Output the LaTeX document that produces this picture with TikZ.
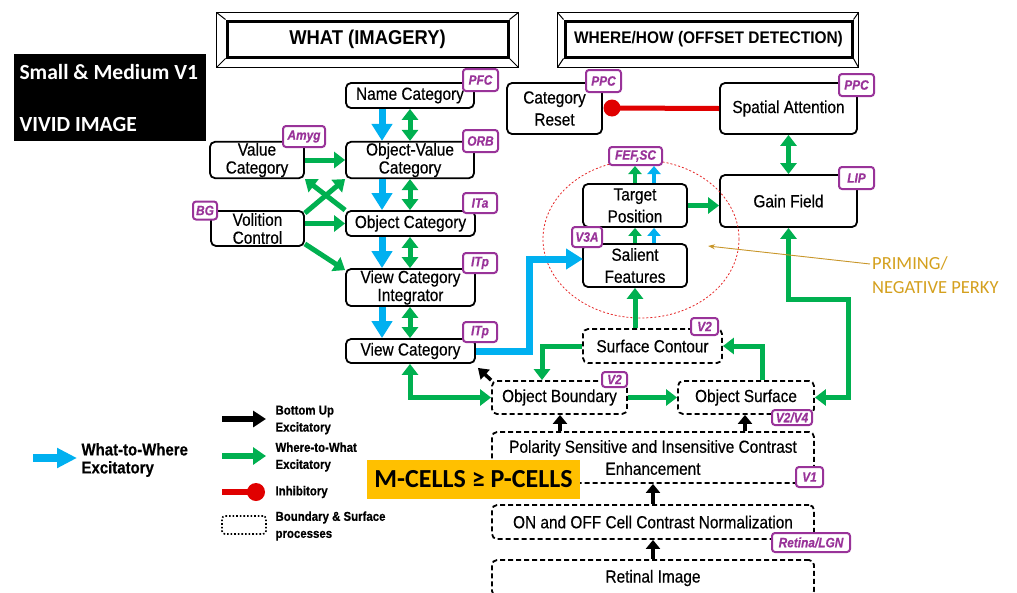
\documentclass[tikz,border=0pt]{standalone}
\usepackage{fontspec}
\setmainfont{Liberation Sans}
\newfontfamily\nf[FakeStretch=0.88, FakeBold=0.4]{Liberation Sans}
\newfontfamily\tf[FakeStretch=0.92]{Liberation Sans}
\newfontfamily\cf{Carlito}
\usetikzlibrary{arrows.meta,calc}
\definecolor{cgreen}{HTML}{00B050}
\definecolor{cblue}{HTML}{00B0F0}
\definecolor{cred}{HTML}{E00000}
\definecolor{cpurple}{HTML}{993399}
\definecolor{corange}{HTML}{FFC000}
\definecolor{cgold}{HTML}{D4A01E}
\definecolor{cgoldline}{HTML}{C8962A}
\begin{document}
\begin{tikzpicture}[x=1pt,y=-1pt,
  box/.style={draw, line width=1.8pt, rounded corners=5pt, fill=white, inner sep=1pt, align=center, font=\nf\fontsize{17.5}{18}\selectfont},
  boxw/.style={box, font=\nf\fontsize{17.5}{22}\selectfont},
  dbox/.style={box, dash pattern=on 5pt off 3pt},
  tag/.style={draw=cpurple, text=cpurple, line width=2pt, rounded corners=3pt, fill=white, inner sep=0pt, font=\nf\bfseries\itshape\fontsize{13.5}{14}\selectfont},
  gar/.style={draw=cgreen, line width=5pt, -{Triangle[length=11pt,width=16pt]}},
  gdar/.style={draw=cgreen, line width=5pt, {Triangle[length=11pt,width=16pt]}-{Triangle[length=11pt,width=16pt]}},
  gsm/.style={draw=cgreen, line width=4pt, -{Triangle[length=8pt,width=13pt]}},
  bsm/.style={draw=cblue, line width=4pt, -{Triangle[length=8pt,width=13pt]}},
  bar/.style={draw=cblue, line width=7pt, -{Triangle[length=17pt,width=20pt]}},
  kar/.style={draw=black, line width=4.5pt, -{Triangle[length=9pt,width=14pt]}},
  ksm/.style={draw=black, line width=3.5pt, -{Triangle[length=10pt,width=13pt]}},
  legtext/.style={anchor=west, align=left, font=\nf\bfseries\fontsize{13}{17}\selectfont},
  frame/.style={draw, line width=1.2pt},
]
\useasboundingbox (0,0) rectangle (1017,592);

% ---------- title frames ----------
\node[draw, line width=3pt, minimum width=281pt, minimum height=36pt, inner sep=0, font=\tf\bfseries\fontsize{20}{20}\selectfont] (what) at (367.5,39) {WHAT (IMAGERY)};
\draw[frame] ([xshift=-9pt,yshift=7pt]what.north west) rectangle ([xshift=9pt,yshift=-9pt]what.south east);
\draw[line width=1pt] ([xshift=-9pt,yshift=7pt]what.north west) -- (what.north west)
  ([xshift=9pt,yshift=7pt]what.north east) -- (what.north east)
  ([xshift=-9pt,yshift=-9pt]what.south west) -- (what.south west)
  ([xshift=9pt,yshift=-9pt]what.south east) -- (what.south east);
\node[draw, line width=3pt, minimum width=287pt, minimum height=36pt, inner sep=0, font=\tf\bfseries\fontsize{16.8}{17}\selectfont] (where) at (708.5,39) {WHERE/HOW (OFFSET DETECTION)};
\draw[frame] ([xshift=-6pt,yshift=7pt]where.north west) rectangle ([xshift=5pt,yshift=-9pt]where.south east);
\draw[line width=1pt] ([xshift=-6pt,yshift=7pt]where.north west) -- (where.north west)
  ([xshift=5pt,yshift=7pt]where.north east) -- (where.north east)
  ([xshift=-6pt,yshift=-9pt]where.south west) -- (where.south west)
  ([xshift=5pt,yshift=-9pt]where.south east) -- (where.south east);

% ---------- black label ----------
\node[fill=black, minimum width=192pt, minimum height=87pt, inner sep=0] (vbox) at (110,97.5) {};
\node[text=white, anchor=west, font=\cf\bfseries\fontsize{21.6}{22}\selectfont] (vt1) at (16,72) {Small \& Medium V1};
\node[text=white, anchor=west, font=\cf\bfseries\fontsize{21.6}{22}\selectfont] (vt2) at (16,124) {VIVID IMAGE};

% ---------- WHAT boxes ----------
\node[box, minimum width=128pt, minimum height=25pt] (namecat) at (410,95.5) {Name Category};
\node[box, minimum width=128pt, minimum height=36pt] (ovcat) at (410,160) {Object-Value\\Category};
\node[box, minimum width=94pt, minimum height=36pt] (valcat) at (257,160) {Value\\Category};
\node[box, minimum width=93pt, minimum height=35pt] (volcon) at (257.5,228.5) {Volition\\Control};
\node[box, minimum width=129pt, minimum height=25pt] (objcat) at (410.5,223.5) {Object Category};
\node[box, minimum width=129pt, minimum height=37pt] (vci) at (410.5,287.5) {View Category\\Integrator};
\node[box, minimum width=129pt, minimum height=24pt] (viewcat) at (410.5,351) {View Category};

% ---------- WHERE boxes ----------
\node[boxw, minimum width=95pt, minimum height=51pt] (catreset) at (554.5,108.5) {Category\\Reset};
\node[box, minimum width=137pt, minimum height=51pt] (spatt) at (788.5,108.5) {Spatial Attention};
\node[box, minimum width=137pt, minimum height=52pt] (gain) at (788.5,201) {Gain Field};
\node[boxw, minimum width=104pt, minimum height=43pt] (target) at (635,205.5) {Target\\Position};
\node[boxw, minimum width=104pt, minimum height=43pt] (salient) at (635,265.5) {Salient\\Features};

% ---------- boundary / surface processes ----------
\node[dbox, minimum width=139pt, minimum height=34pt] (surfcont) at (652.5,346) {Surface Contour};
\node[dbox, minimum width=135pt, minimum height=33pt] (objbound) at (559.5,397.5) {Object Boundary};
\node[dbox, minimum width=136pt, minimum height=33pt] (objsurf) at (746,397.5) {Object Surface};
\node[dbox, boxw, dash pattern=on 5pt off 3pt, minimum width=322pt, minimum height=51pt] (polarity) at (653,457.5) {Polarity Sensitive and Insensitive Contrast\\Enhancement};
\node[dbox, minimum width=322pt, minimum height=34pt] (onoff) at (653,522) {ON and OFF Cell Contrast Normalization};
\node[dbox, minimum width=322pt, minimum height=36pt] (retinal) at (653,578) {Retinal Image};

% ---------- priming ellipse ----------
\draw[cred!85, dash pattern=on 2pt off 2pt, line width=0.8pt] (641,239) ellipse [x radius=98, y radius=79];

% ---------- tags ----------
\node[tag, minimum width=35pt, minimum height=22pt] (pfc) at (480.5,80) {PFC};
\node[tag, minimum width=35pt, minimum height=22pt] (orb) at (480.5,141) {ORB};
\node[tag, minimum width=42pt, minimum height=21pt] (amyg) at (304,136.5) {Amyg};
\node[tag, minimum width=24pt, minimum height=18pt] (bg) at (205,210.5) {BG};
\node[tag, minimum width=34pt, minimum height=20pt] (ita) at (480,203) {ITa};
\node[tag, minimum width=34pt, minimum height=20pt] (itp1) at (480,263) {ITp};
\node[tag, minimum width=34pt, minimum height=20pt] (itp2) at (480,332) {ITp};
\node[tag, minimum width=35pt, minimum height=22pt] (ppc1) at (603.5,81) {PPC};
\node[tag, minimum width=35pt, minimum height=22pt] (ppc2) at (856.5,85) {PPC};
\node[tag, minimum width=35pt, minimum height=22pt] (lip) at (856.5,178) {LIP};
\node[tag, minimum width=53pt, minimum height=18pt] (fef) at (635.5,156) {FEF,SC};
\node[tag, minimum width=30pt, minimum height=20pt] (v3a) at (587,237) {V3A};
\node[tag, minimum width=27pt, minimum height=17pt] (v2a) at (704.5,326.5) {V2};
\node[tag, minimum width=25pt, minimum height=15pt] (v2b) at (614.5,379.5) {V2};
\node[tag, minimum width=40pt, minimum height=15pt] (v2v4) at (792,417.5) {V2/V4};
\node[tag, minimum width=27pt, minimum height=20pt] (v1) at (809.5,477) {V1};
\node[tag, minimum width=78pt, minimum height=19pt] (lgn) at (811,542.5) {Retina/LGN};

% ---------- WHAT column connectors ----------
\coordinate (bx) at (382,0);
\coordinate (gx) at (410,0);
\draw[bar] (namecat.south -| bx) -- (ovcat.north -| bx);
\draw[bar] (ovcat.south -| bx) -- (objcat.north -| bx);
\draw[bar] (objcat.south -| bx) -- (vci.north -| bx);
\draw[bar] (vci.south -| bx) -- (viewcat.north -| bx);
\draw[gdar] (namecat.south -| gx) -- (ovcat.north -| gx);
\draw[gdar] (ovcat.south -| gx) -- (objcat.north -| gx);
\draw[gdar] (objcat.south -| gx) -- (vci.north -| gx);
\draw[gdar] (vci.south -| gx) -- (viewcat.north -| gx);

\draw[gar] (valcat.east) -- (ovcat.west);
\draw[gar] (objcat.west -| volcon.east) -- (objcat.west);
\draw[gar] ([yshift=-3pt]volcon.north east) -- (ovcat.south west);
\draw[gar] (objcat.north west) -- (valcat.south east);
\draw[gar] ([yshift=3pt]volcon.south east) -- ([yshift=-2pt]vci.north west);

% ---------- WHERE connectors ----------
\node[circle, fill=cred, minimum size=17pt, inner sep=0] (inh) at (612,108) {};
\draw[cred, line width=5pt] (spatt.west) -- (inh.center);
\draw[gdar] (spatt.south) -- (gain.north);
\draw[gar] (target.east) -- (target.east -| gain.west);

\coordinate (tg) at (635,0);
\coordinate (tb) at (654,0);
\draw[gsm] (target.north -| tg) -- (fef.south -| tg);
\draw[bsm] (target.north -| tb) -- (fef.south -| tb);
\draw[gsm] (salient.north -| tg) -- (target.south -| tg);
\draw[bsm] (salient.north -| tb) -- (target.south -| tb);
\draw[gar] (surfcont.north -| tg) -- (salient.south -| tg);

\coordinate (bc) at (529,351);
\coordinate (sfin) at (583,259);
\draw[bar] (viewcat.east) -| (sfin -| bc) -- (sfin);

\coordinate (scx) at (542,0);
\draw[gar] (surfcont.west) -| (objbound.north -| scx);
\coordinate (osx) at (762,0);
\draw[gar] (objsurf.north -| osx) |- (surfcont.east);
\coordinate (g2) at (848,299);
\draw[gdar] (gain.south) |- (g2) |- (objsurf.east);

\draw[gdar] (viewcat.south -| gx) |- (objbound.west);
\draw[gar] (objbound.east) -- (objsurf.west);
\draw[ksm] (objbound.north west) -- ([xshift=2pt,yshift=-4pt]viewcat.south east);

\coordinate (k1) at (560,0);
\coordinate (k2) at (745,0);
\coordinate (k3) at (653,0);
\draw[kar] (polarity.north -| k1) -- (objbound.south -| k1);
\draw[kar] (polarity.north -| k2) -- (objsurf.south -| k2);
\draw[kar] (onoff.north -| k3) -- (polarity.south -| k3);
\draw[kar] (retinal.north -| k3) -- (onoff.south -| k3);

% ---------- M-cells label ----------
\node[fill=corange, minimum width=213pt, minimum height=39pt, inner sep=0, font=\cf\bfseries\fontsize{26}{26}\selectfont] (mcells) at (473.5,479.5) {M-CELLS ≥ P-CELLS};

% ---------- priming annotation ----------
\node[text=cgold, anchor=west, align=left, inner sep=0, font=\cf\fontsize{18.5}{24}\selectfont] (prim) at (872,275) {PRIMING/\\NEGATIVE PERKY};
\coordinate (primtip) at (708,246);
\draw[cgoldline, line width=0.9pt, -{Stealth[length=7pt,width=5pt]}] ([xshift=-2pt,yshift=11pt]prim.west) -- (primtip);

% ---------- legend ----------
\coordinate (l1a) at (222,419); \coordinate (l1b) at (266,419);
\draw[black, line width=5.5pt, -{Triangle[length=13pt,width=16pt]}] (l1a) -- (l1b);
\node[legtext] (l1t) at (272,420) {Bottom Up\\Excitatory};
\coordinate (l2a) at (222,456); \coordinate (l2b) at (266,456);
\draw[cgreen, line width=5.5pt, -{Triangle[length=13pt,width=17pt]}] (l2a) -- (l2b);
\node[legtext] (l2t) at (272,457) {Where-to-What\\Excitatory};
\coordinate (l3a) at (222,492);
\node[circle, fill=cred, minimum size=18pt, inner sep=0] (l3c) at (256,492) {};
\draw[cred, line width=5.5pt] (l3a) -- (l3c.center);
\node[legtext] (l3t) at (272,492) {Inhibitory};
\node[draw, dotted, line width=1.6pt, rounded corners=3pt, minimum width=44pt, minimum height=18pt, inner sep=0] (l4box) at (244,525) {};
\node[legtext] (l4t) at (272,526) {Boundary \& Surface\\processes};
\coordinate (l5a) at (33,458); \coordinate (l5b) at (77,458);
\draw[cblue, line width=7.5pt, -{Triangle[length=20pt,width=19pt]}] (l5a) -- (l5b);
\node[anchor=west, align=left, font=\nf\bfseries\fontsize{17}{18}\selectfont] (l5t) at (78,460) {What-to-Where\\Excitatory};
\end{tikzpicture}
\end{document}
